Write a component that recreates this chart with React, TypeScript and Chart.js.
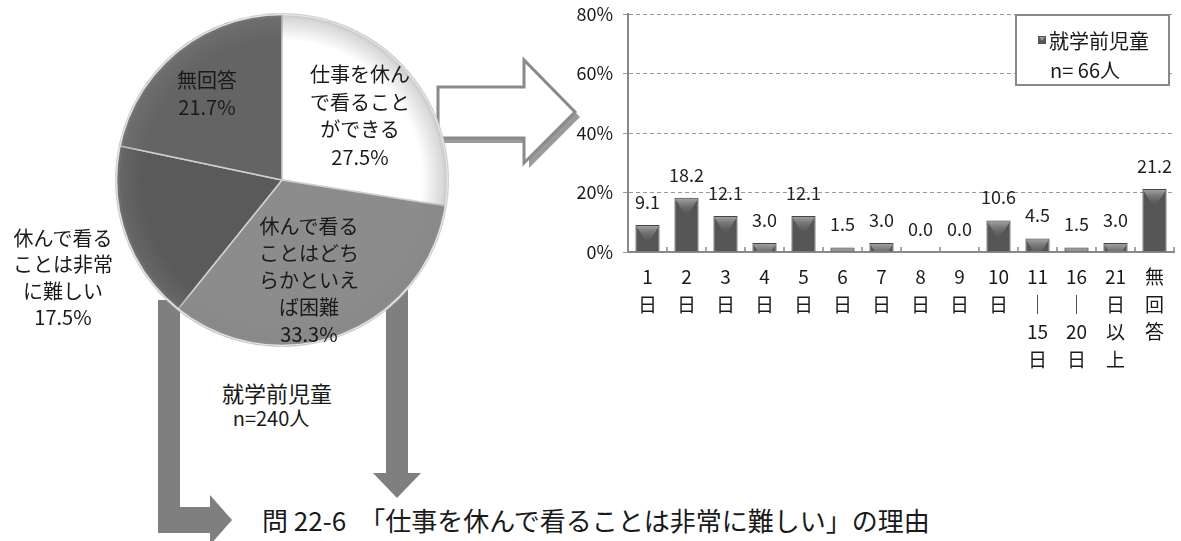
import React, { useEffect, useRef } from 'react';
import { Chart, registerables } from 'chart.js';
Chart.register(...registerables);

const FONT = '"Noto Sans CJK JP", "Noto Sans", sans-serif';

// ---- Pie data ----
const pieLabels = [
  '仕事を休んで看ることができる',
  '休んで看ることはどちらかといえば困難',
  '休んで看ることは非常に難しい',
  '無回答',
];
const pieValues = [27.5, 33.3, 17.5, 21.7];
const pieColors = ['#ffffff', '#8c8c8c', '#5a5a5a', '#646464'];
const pieLabelLines = [
  ['仕事を休ん', 'で看ること', 'ができる'],
  ['休んで看る', 'ことはどち', 'らかといえ', 'ば困難'],
  ['休んで看る', 'ことは非常', 'に難しい'],
  ['無回答'],
];
const pieGroup = '就学前児童';
const pieN = 'n=240人';

// ---- Bar data ----
const barCategories = [
  ['1', '日'], ['2', '日'], ['3', '日'], ['4', '日'], ['5', '日'], ['6', '日'], ['7', '日'],
  ['8', '日'], ['9', '日'], ['10', '日'], ['11', '｜', '15', '日'], ['16', '｜', '20', '日'],
  ['21', '日', '以', '上'], ['無', '回', '答'],
];
const barValues = [9.1, 18.2, 12.1, 3.0, 12.1, 1.5, 3.0, 0.0, 0.0, 10.6, 4.5, 1.5, 3.0, 21.2];
const yTicks = [0, 20, 40, 60, 80];
const barSeriesName = '就学前児童';
const barN = 'n= 66人';

const title = '問 22-6　「仕事を休んで看ることは非常に難しい」の理由';

// layout of pie text labels (centre x, first line centre y, line height)
const pieLabelPos = [
  { cx: 360, y0: 74, lh: 27.5 },
  { cx: 309, y0: 225, lh: 27 },
  { cx: 63, y0: 238, lh: 26.5 },
  { cx: 207, y0: 79, lh: 27 },
];

const rimPlugin = {
  id: 'rim',
  afterDatasetsDraw(chart: any) {
    const ctx = chart.ctx;
    const meta = chart.getDatasetMeta(0);
    meta.data.forEach((arc: any) => {
      const { x, y, startAngle, endAngle, outerRadius } = arc.getProps(
        ['x', 'y', 'startAngle', 'endAngle', 'outerRadius'], true);
      ctx.save();
      ctx.beginPath();
      ctx.moveTo(x, y);
      ctx.arc(x, y, outerRadius, startAngle, endAngle);
      ctx.closePath();
      ctx.clip();
      const g = ctx.createRadialGradient(x, y, outerRadius * 0.84, x, y, outerRadius);
      g.addColorStop(0, 'rgba(128,128,128,0)');
      g.addColorStop(0.8, 'rgba(128,128,128,0.3)');
      g.addColorStop(1, 'rgba(150,150,150,0.55)');
      ctx.fillStyle = g;
      ctx.fillRect(x - outerRadius, y - outerRadius, outerRadius * 2, outerRadius * 2);
      ctx.restore();
    });
    const a0: any = meta.data[0];
    if (a0) {
      const { x, y, outerRadius } = a0.getProps(['x', 'y', 'outerRadius'], true);
      ctx.save();
      ctx.strokeStyle = '#e4e4e4';
      ctx.lineWidth = 1.5;
      ctx.beginPath();
      ctx.arc(x, y, outerRadius - 0.75, 0, Math.PI * 2);
      ctx.stroke();
      ctx.restore();
    }
  },
};

const barDecorPlugin = {
  id: 'barDecor',
  afterDatasetsDraw(chart: any) {
    const ctx = chart.ctx;
    const meta = chart.getDatasetMeta(0);
    const xs = chart.scales.x;
    const ys = chart.scales.y;
    // bevel highlight on top of bars
    meta.data.forEach((bar: any) => {
      const { x, y, base, width } = bar.getProps(['x', 'y', 'base', 'width'], true);
      const h = base - y;
      if (h < 2) return;
      const l = x - width / 2;
      const r = x + width / 2;
      ctx.save();
      ctx.beginPath();
      ctx.rect(l + 1, y + 1, width - 2, h - 1.5);
      ctx.clip();
      const d = width * 0.8;
      const g = ctx.createLinearGradient(0, y, 0, y + d);
      g.addColorStop(0, '#a8a8a8');
      g.addColorStop(1, 'rgba(90,90,90,0)');
      ctx.fillStyle = g;
      ctx.beginPath();
      ctx.moveTo(l, y);
      ctx.lineTo(r, y);
      ctx.lineTo(x, y + d);
      ctx.closePath();
      ctx.fill();
      ctx.restore();
    });
    // small upward ticks on the category axis
    ctx.save();
    ctx.strokeStyle = '#888';
    ctx.lineWidth = 1.5;
    const n = barValues.length;
    for (let i = 0; i <= n; i++) {
      const px = xs.left + (i * (xs.right - xs.left)) / n;
      ctx.beginPath();
      ctx.moveTo(px, ys.bottom);
      ctx.lineTo(px, ys.bottom - 5);
      ctx.stroke();
    }
    ctx.restore();
    // data labels
    ctx.save();
    ctx.font = `18px ${FONT}`;
    ctx.fillStyle = '#222';
    ctx.textAlign = 'center';
    ctx.textBaseline = 'middle';
    meta.data.forEach((bar: any, i: number) => {
      const { x, y } = bar.getProps(['x', 'y'], true);
      ctx.fillText(barValues[i].toFixed(1), x, y - 23);
    });
    ctx.restore();
  },
  afterDraw(chart: any) {
    const ctx = chart.ctx;
    const ca = chart.chartArea;
    const bx = ca.right - 158;
    const by = 15;
    const bw = 153;
    const bh = 70;
    ctx.save();
    ctx.fillStyle = '#ffffff';
    ctx.fillRect(bx, by, bw, bh);
    ctx.strokeStyle = '#888';
    ctx.lineWidth = 2;
    ctx.strokeRect(bx, by, bw, bh);
    ctx.fillStyle = '#555';
    ctx.fillRect(bx + 22, by + 21, 8, 8);
    ctx.fillStyle = '#999';
    ctx.beginPath();
    ctx.moveTo(bx + 23, by + 22);
    ctx.lineTo(bx + 29, by + 22);
    ctx.lineTo(bx + 26, by + 26);
    ctx.closePath();
    ctx.fill();
    ctx.fillStyle = '#1a1a1a';
    ctx.font = `20px ${FONT}`;
    ctx.textAlign = 'left';
    ctx.textBaseline = 'middle';
    ctx.fillText(barSeriesName, bx + 33, by + 26);
    ctx.fillText(barN, bx + 34, by + 55);
    ctx.restore();
  },
};

export default function App() {
  const pieRef = useRef<HTMLCanvasElement>(null);
  const barRef = useRef<HTMLCanvasElement>(null);

  useEffect(() => {
    const pie = new Chart(pieRef.current as HTMLCanvasElement, {
      type: 'pie',
      data: {
        labels: pieLabels,
        datasets: [
          {
            data: pieValues,
            backgroundColor: pieColors,
            borderColor: '#d0d0d0',
            borderWidth: 1.5,
            hoverOffset: 0,
          },
        ],
      },
      options: {
        animation: false,
        responsive: false,
        maintainAspectRatio: false,
        events: [],
        layout: { padding: 0 },
        plugins: { legend: { display: false }, tooltip: { enabled: false } },
      },
      plugins: [rimPlugin],
    } as any);

    const bar = new Chart(barRef.current as HTMLCanvasElement, {
      type: 'bar',
      data: {
        labels: barCategories,
        datasets: [
          {
            label: barSeriesName,
            data: barValues,
            backgroundColor: '#555555',
            borderColor: '#444444',
            borderWidth: 1,
            categoryPercentage: 1,
            barPercentage: 0.62,
          },
        ],
      },
      options: {
        animation: false,
        responsive: false,
        maintainAspectRatio: false,
        events: [],
        layout: { padding: { top: 0, right: 7, left: 0, bottom: 0 } },
        plugins: { legend: { display: false }, tooltip: { enabled: false } },
        scales: {
          x: {
            grid: { display: false },
            border: { color: '#888', width: 2 },
            ticks: {
              color: '#1a1a1a',
              font: { family: FONT, size: 19, lineHeight: 1.45 },
              padding: 3,
              maxRotation: 0,
              autoSkip: false,
            },
            afterFit: (s: any) => {
              s.height = 138;
            },
          },
          y: {
            min: yTicks[0],
            max: yTicks[yTicks.length - 1],
            ticks: {
              stepSize: yTicks[1] - yTicks[0],
              callback: (v: any) => v + '%',
              color: '#1a1a1a',
              font: { family: FONT, size: 18, lineHeight: 0.45 },
              padding: 10,
            },
            grid: { color: '#999', lineWidth: 1, tickLength: 5, drawTicks: true },
            border: { color: '#888', width: 2, dash: [4, 3] },
            afterFit: (s: any) => {
              s.width = 68;
            },
          },
        },
      },
      plugins: [barDecorPlugin],
    } as any);

    return () => {
      pie.destroy();
      bar.destroy();
    };
  }, []);

  const textStyle: React.CSSProperties = {
    position: 'absolute',
    fontFamily: FONT,
    fontSize: 20,
    color: '#1a1a1a',
    textAlign: 'center',
    whiteSpace: 'pre',
  };

  return (
    <div
      style={{
        position: 'absolute',
        left: 0,
        top: 0,
        width: 1181,
        height: 541,
        overflow: 'hidden',
        background: '#ffffff',
      }}
    >
      <svg width={1181} height={541} style={{ position: 'absolute', left: 0, top: 0 }}>
        {/* hollow arrow toward bar chart */}
        <polygon
          points="443,92 529,92 529,65 580,117 529,168 529,143 443,143"
          fill="#9a9a9a"
        />
        <polygon
          points="438,87 524,87 524,60 575,112 524,163 524,138 438,138"
          fill="#ffffff"
          stroke="#8a8a8a"
          strokeWidth={3}
          strokeLinejoin="miter"
        />
        {/* L-shaped arrow */}
        <polygon
          points="158,300 180,300 180,507 210,507 210,495 232,520 210,545 210,533 158,533"
          fill="#7f7f7f"
        />
        {/* downward arrow */}
        <polygon points="386,290 408,290 408,473 421,473 397,498 373,473 386,473" fill="#7f7f7f" />
      </svg>
      <canvas
        ref={pieRef}
        width={334}
        height={334}
        style={{ position: 'absolute', left: 115, top: 13, width: 334, height: 334 }}
      />
      <canvas
        ref={barRef}
        width={621}
        height={390}
        style={{ position: 'absolute', left: 560, top: 0, width: 621, height: 390 }}
      />
      {pieLabelLines.map((lines, i) => {
        const p = pieLabelPos[i];
        const txt = [...lines, pieValues[i].toFixed(1) + '%'].join('\n');
        return (
          <div
            key={i}
            style={{
              ...textStyle,
              left: p.cx - 80,
              width: 160,
              top: p.y0 - p.lh / 2,
              lineHeight: p.lh + 'px',
            }}
          >
            {txt}
          </div>
        );
      })}
      <div style={{ ...textStyle, left: 197, width: 160, top: 377, fontSize: 22, lineHeight: '30px' }}>
        {pieGroup}
      </div>
      <div style={{ ...textStyle, left: 191, width: 160, top: 404, lineHeight: '28px' }}>{pieN}</div>
      <div
        style={{
          ...textStyle,
          textAlign: 'left',
          left: 262,
          top: 503,
          fontSize: 26,
          lineHeight: '34px',
        }}
      >
        {title}
      </div>
    </div>
  );
}
